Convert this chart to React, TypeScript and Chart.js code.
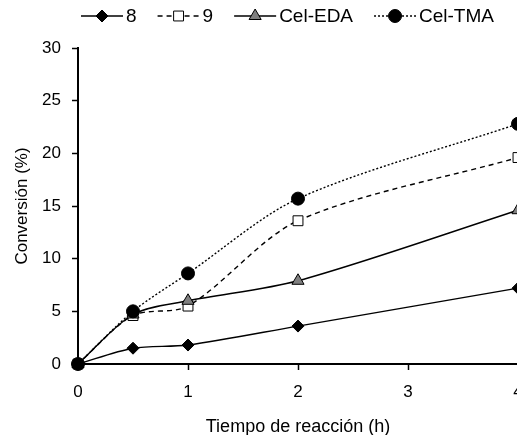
import React, { useEffect, useRef } from 'react';
import { Chart, registerables } from 'chart.js';

Chart.register(...registerables);

// ---- data ----
const timeHours = [0, 0.5, 1, 2, 4];
const conv8 = [0, 1.5, 1.8, 3.6, 7.2];
const conv9 = [0, 4.6, 5.5, 13.6, 19.6];
const convEDA = [0, 4.7, 6.0, 7.9, 14.6];
const convTMA = [0, 5.0, 8.6, 15.7, 22.8];
const seriesLabels = ['8', '9', 'Cel-EDA', 'Cel-TMA'];
const xTickValues = [0, 1, 2, 3, 4];
const yTickValues = [0, 5, 10, 15, 20, 25, 30];
const xAxisTitle = 'Tiempo de reacción (h)';
const yAxisTitle = 'Conversión (%)';

const seriesValues = [conv8, conv9, convEDA, convTMA];

// ---- styles ----
const FONT = '"Liberation Sans", Arial, sans-serif';
const seriesStyles = [
  { pointStyle: 'rectRot', radius: 6, fill: '#000000', dash: [] as number[], order: 3 },
  { pointStyle: 'rect', radius: 7, fill: '#ffffff', dash: [5, 4], order: 2 },
  { pointStyle: 'triangle', radius: 7, fill: '#808080', dash: [] as number[], order: 1 },
  { pointStyle: 'circle', radius: 6.5, fill: '#000000', dash: [2, 2], order: 0 },
];

const CANVAS_W = 545;
const CANVAS_H = 450;
const AREA_LEFT = 78;
const AREA_TOP = 48;
const AREA_RIGHT = 518;
const AREA_BOTTOM = 364;

function drawMarker(ctx: CanvasRenderingContext2D, style: string, x: number, y: number, r: number, fill: string) {
  ctx.beginPath();
  if (style === 'circle') {
    ctx.arc(x, y, r, 0, Math.PI * 2);
  } else if (style === 'rect') {
    const s = r * Math.SQRT1_2;
    ctx.rect(x - s, y - s, 2 * s, 2 * s);
  } else if (style === 'rectRot') {
    ctx.moveTo(x, y - r);
    ctx.lineTo(x + r, y);
    ctx.lineTo(x, y + r);
    ctx.lineTo(x - r, y);
    ctx.closePath();
  } else if (style === 'triangle') {
    ctx.moveTo(x, y - r);
    ctx.lineTo(x + Math.sin((2 * Math.PI) / 3) * r, y + 0.5 * r);
    ctx.lineTo(x - Math.sin((2 * Math.PI) / 3) * r, y + 0.5 * r);
    ctx.closePath();
  }
  ctx.fillStyle = fill;
  ctx.fill();
  ctx.lineWidth = 1;
  ctx.strokeStyle = '#000';
  ctx.setLineDash([]);
  ctx.stroke();
}

const legendPlugin = {
  id: 'lineMarkerLegend',
  afterDraw(chart: any) {
    const ctx: CanvasRenderingContext2D = chart.ctx;
    ctx.save();
    ctx.font = `19px ${FONT}`;
    ctx.textBaseline = 'middle';
    ctx.textAlign = 'left';
    const y = 16;
    let x = 81;
    const lineLen = 42;
    seriesLabels.forEach((label, i) => {
      const st = seriesStyles[i];
      ctx.beginPath();
      ctx.setLineDash(st.dash);
      ctx.lineWidth = 1.5;
      ctx.strokeStyle = '#000';
      ctx.moveTo(x, y);
      ctx.lineTo(x + lineLen, y);
      ctx.stroke();
      drawMarker(ctx, st.pointStyle, x + lineLen / 2, y, st.radius, st.fill);
      ctx.fillStyle = '#000';
      const tx = x + lineLen + 3;
      ctx.fillText(label, tx, y + 1);
      x = tx + ctx.measureText(label).width + 21;
    });
    ctx.restore();
  },
};

export default function App() {
  const canvasRef = useRef<HTMLCanvasElement | null>(null);

  useEffect(() => {
    const canvas = canvasRef.current;
    if (!canvas) return;
    const datasets = seriesLabels.map((label, i) => {
      const st = seriesStyles[i];
      return {
        label,
        data: timeHours.map((t, j) => ({ x: t, y: seriesValues[i][j] })),
        borderColor: '#000000',
        backgroundColor: st.fill,
        borderWidth: 1.4,
        borderDash: st.dash,
        tension: 0.3,
        pointStyle: st.pointStyle,
        pointRadius: st.radius,
        pointBackgroundColor: st.fill,
        pointBorderColor: '#000000',
        pointBorderWidth: 1,
        clip: false as any,
        order: st.order,
        fill: false,
      };
    });

    const chart = new Chart(canvas, {
      type: 'line',
      data: { datasets },
      options: {
        responsive: false,
        animation: false,
        devicePixelRatio: 1,
        layout: {
          padding: { top: AREA_TOP, left: 0, right: CANVAS_W - AREA_RIGHT, bottom: 0 },
        },
        plugins: {
          legend: { display: false },
          tooltip: { enabled: false },
        },
        scales: {
          x: {
            type: 'linear',
            min: xTickValues[0],
            max: xTickValues[xTickValues.length - 1],
            afterFit: (scale: any) => {
              scale.height = CANVAS_H - AREA_BOTTOM;
            },
            afterBuildTicks: (scale: any) => {
              scale.ticks = xTickValues.map((v) => ({ value: v }));
            },
            ticks: {
              font: { family: FONT, size: 17 },
              color: '#000',
              padding: 12,
              maxRotation: 0,
            },
            grid: {
              display: true,
              drawOnChartArea: false,
              drawTicks: true,
              tickLength: 6,
              tickWidth: 1.5,
              tickColor: '#000',
            },
            border: { display: true, color: '#000', width: 2 },
            title: {
              display: true,
              text: xAxisTitle,
              font: { family: FONT, size: 18 },
              color: '#000',
              padding: { top: 0, bottom: 12 },
            },
          },
          y: {
            type: 'linear',
            min: yTickValues[0],
            max: yTickValues[yTickValues.length - 1],
            afterFit: (scale: any) => {
              scale.width = AREA_LEFT;
            },
            afterBuildTicks: (scale: any) => {
              scale.ticks = yTickValues.map((v) => ({ value: v }));
            },
            ticks: {
              font: { family: FONT, size: 17 },
              color: '#000',
              padding: 11,
            },
            grid: {
              display: true,
              drawOnChartArea: false,
              drawTicks: true,
              tickLength: 6,
              tickWidth: 1.5,
              tickColor: '#000',
            },
            border: { display: true, color: '#000', width: 2 },
            title: {
              display: true,
              text: yAxisTitle,
              font: { family: FONT, size: 17 },
              color: '#000',
              padding: { top: 12, bottom: 0 },
            },
          },
        },
      },
      plugins: [legendPlugin],
    });

    return () => {
      chart.destroy();
    };
  }, []);

  return (
    <div
      style={{
        position: 'fixed',
        left: 0,
        top: 0,
        width: 517,
        height: 435,
        overflow: 'hidden',
        background: '#ffffff',
      }}
    >
      <canvas
        ref={canvasRef}
        width={CANVAS_W}
        height={CANVAS_H}
        style={{ display: 'block', width: CANVAS_W, height: CANVAS_H }}
      />
    </div>
  );
}
